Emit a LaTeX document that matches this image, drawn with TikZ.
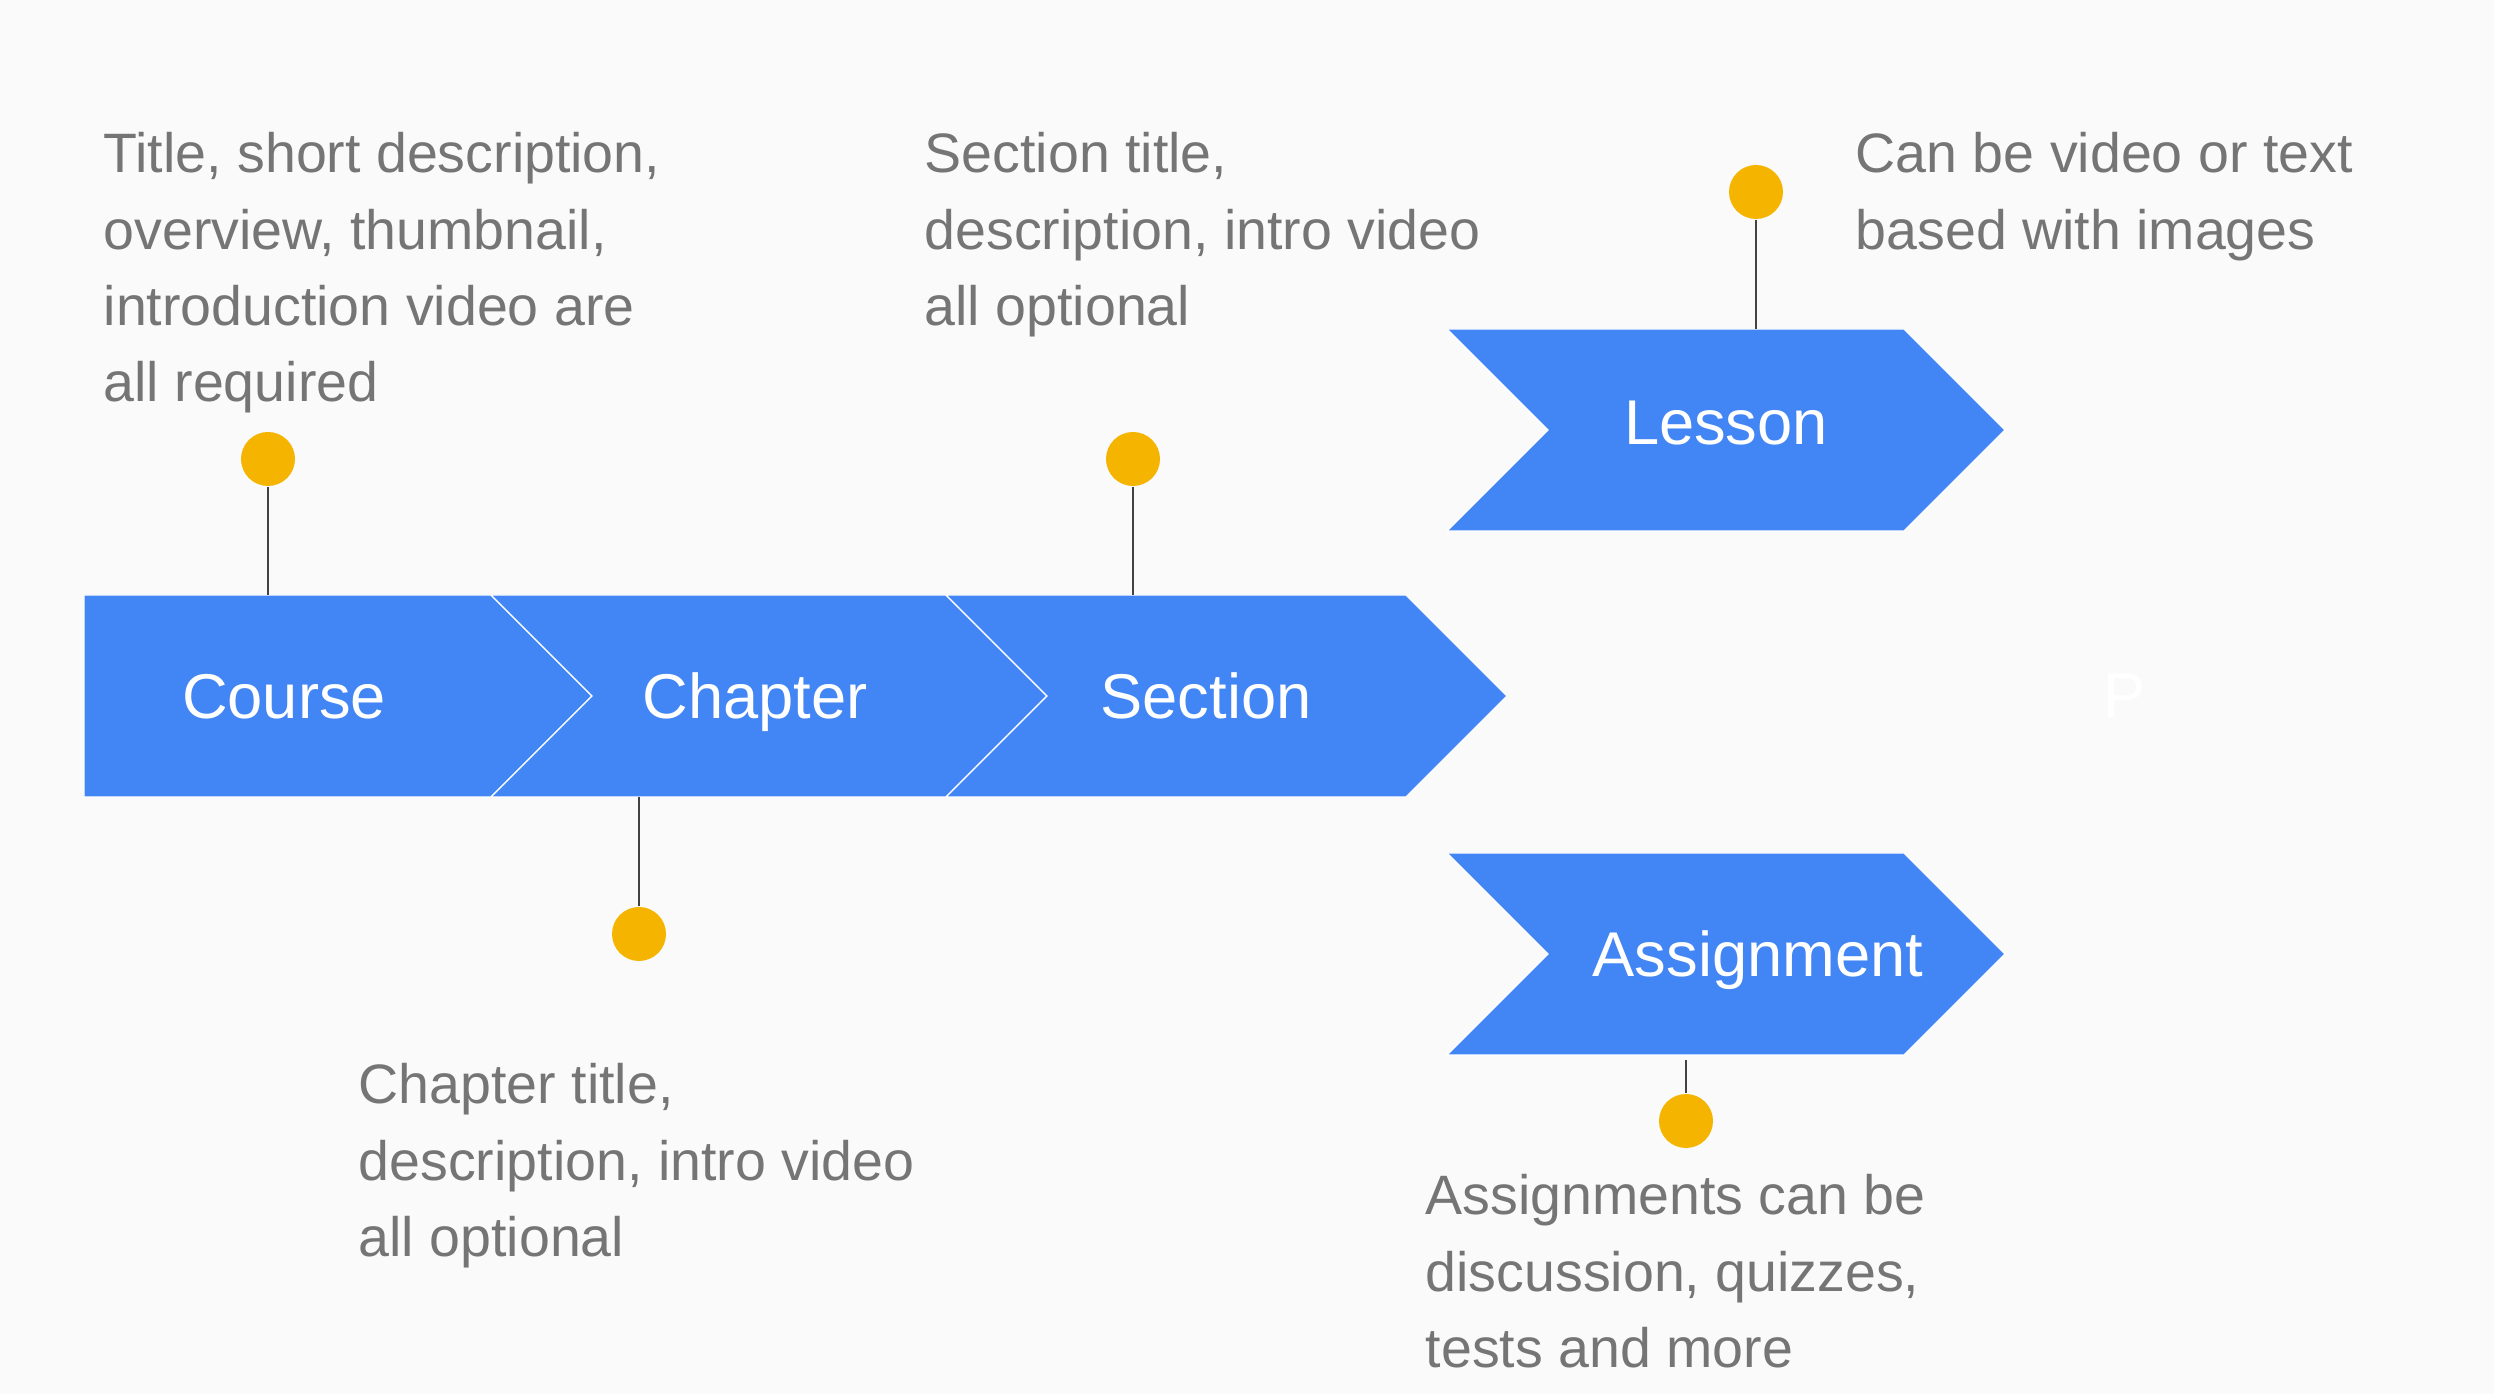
\documentclass[tikz,border=0pt]{standalone}
\usepackage{fontspec}
\setmainfont{Liberation Sans}
\definecolor{pagebg}{HTML}{FAFAFA}
\definecolor{chevblue}{HTML}{4285F4}
\definecolor{dotyellow}{HTML}{F4B400}
\definecolor{notegray}{HTML}{757575}
\definecolor{stemgray}{HTML}{424242}
\begin{document}
\begin{tikzpicture}[x=0.1mm, y=-0.1mm,
    chev/.style={fill=chevblue, draw=white, line width=0.35pt},
    chevtext/.style={anchor=base, text=white, inner sep=0pt, font=\fontsize{18}{22}\selectfont},
    note/.style={anchor=north west, align=left, text=notegray, inner sep=0pt, font=\fontsize{15.8}{21.7}\selectfont},
    pin/.style={circle, fill=dotyellow, minimum size=5.4mm, inner sep=0pt},
    stem/.style={draw=stemgray, line width=0.75pt}]
  \useasboundingbox (0,0) rectangle (2494,1394);
  \fill[pagebg] (0,0) rectangle (2494,1394);
  % main strip
  \path[chev] (84,595) -- (491,595) -- (592,696) -- (491,797) -- (84,797) -- cycle;
  \path[chev] (491,595) -- (946,595) -- (1047,696) -- (946,797) -- (491,797) -- (592,696) -- cycle;
  \path[chev] (946,595) -- (1406,595) -- (1507,696) -- (1406,797) -- (946,797) -- (1047,696) -- cycle;
  % branches
  \path[chev] (1447,329) -- (1904,329) -- (2005,430) -- (1904,531) -- (1447,531) -- (1548,430) -- cycle;
  \path[chev] (1447,853) -- (1904,853) -- (2005,954) -- (1904,1055) -- (1447,1055) -- (1548,954) -- cycle;

  \node[chevtext] (course) at (284,719) {Course};
  \node[chevtext] (chapter) at (755,719) {Chapter};
  \node[chevtext] (section) at (1206,719) {Section};
  \node[chevtext] (lesson) at (1726,445) {Lesson};
  \node[chevtext] (assignment) at (1758,977) {Assignment};
  \node[chevtext] (pmark) at (2125,718) {P};

  \coordinate (coursetop) at (268,595);
  \coordinate (sectiontop) at (1133,595);
  \coordinate (chapterbot) at (639,797);
  \coordinate (lessontop) at (1756,329);
  \coordinate (assignbot) at (1686,1060);

  \node[pin] (coursepin) at (268,459){};
  \node[pin] (sectionpin) at (1133,459){};
  \node[pin] (chapterpin) at (639,934){};
  \node[pin] (lessonpin) at (1756,192){};
  \node[pin] (assignpin) at (1686,1121){};
  \draw[stem] (coursepin) -- (coursetop);
  \draw[stem] (sectionpin) -- (sectiontop);
  \draw[stem] (chapterbot) -- (chapterpin);
  \draw[stem] (lessonpin) -- (lessontop);
  \draw[stem] (assignbot) -- (assignpin);

  % notes
  \node[note] (coursenote) at (103,132) {Title, short description,\\overview, thumbnail,\\introduction video are\\all required};
  \node[note] (sectionnote) at (924,132) {Section title,\\description, intro video\\all optional};
  \node[note] (lessonnote) at (1855,132) {Can be video or text\\based with images};
  \node[note] (chapternote) at (358,1063) {Chapter title,\\description, intro video\\all optional};
  \node[note] (assignnote) at (1425,1174) {Assignments can be\\discussion, quizzes,\\tests and more};
\end{tikzpicture}
\end{document}
